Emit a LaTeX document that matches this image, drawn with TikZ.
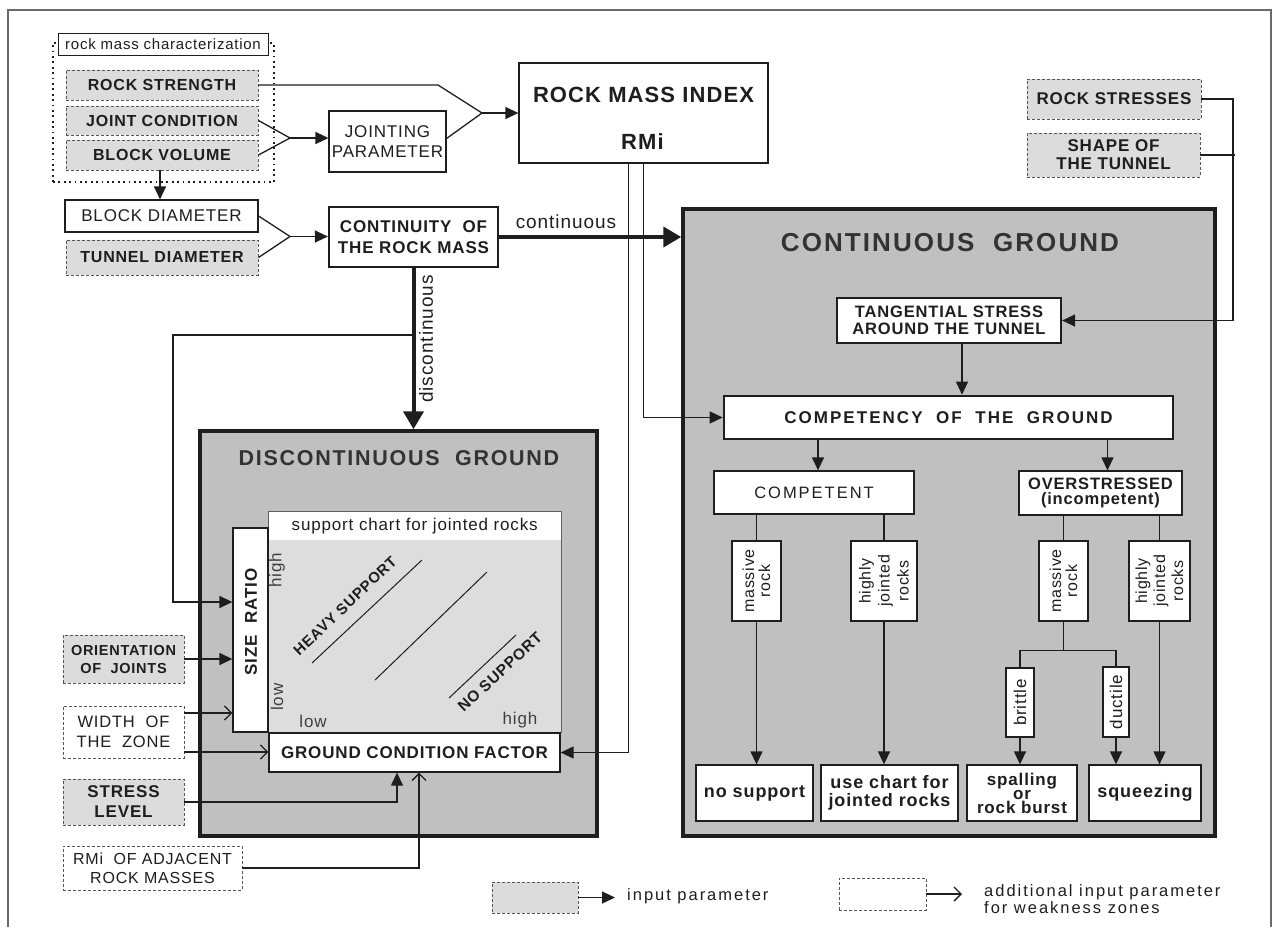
\documentclass[tikz,border=0pt]{standalone}
\usepackage{fontspec}
\setmainfont{Liberation Sans}[LetterSpace=5]
\newfontfamily\widefont{Liberation Sans}[LetterSpace=12]
\newfontfamily\titlefont{Liberation Sans}[LetterSpace=8]
\usetikzlibrary{arrows.meta,calc}
\definecolor{ink}{HTML}{1E1E1E}
\definecolor{inbox}{HTML}{DCDCDC}
\definecolor{groundfill}{HTML}{C0C0C0}
\definecolor{chartfill}{HTML}{DDDDDD}
\definecolor{framegray}{HTML}{6A6A6A}
\newcommand\fz[2]{\fontsize{#1}{#2}\selectfont}
\tikzset{
  box/.style={draw=ink, line width=1.3pt, fill=white, inner sep=0pt, align=center, text=ink},
  inp/.style={box, fill=inbox, draw=ink!75, line width=0.9pt, dash pattern=on 3pt off 2pt},
  weak/.style={inp, fill=white},
  heavybox/.style={box, line width=2.6pt},
  groundbox/.style={draw=ink, line width=3.5pt, fill=groundfill, inner sep=0pt},
  sz/.style 2 args={minimum width=#1, minimum height=#2},
  txt/.style={inner sep=0pt, text=ink, align=center},
  link/.style={draw=ink, line width=1.3pt},
  arr/.style={link, -{Triangle[length=13pt,width=12pt]}},
  oarr/.style={link, -{Straight Barb[length=7pt,width=14pt]}},
  bigarr/.style={draw=ink, line width=4pt, -{Triangle[length=18pt,width=20pt]}},
}
\begin{document}
\begin{tikzpicture}[x=1pt,y=-1pt]
\useasboundingbox (0,0) rectangle (1274,927);
\draw[framegray, line width=1.2pt] (8,927) -- (8,10) -- (1271,10) -- (1271,927);

% ---------- ground boxes ----------
\node[groundbox, sz={532}{627}] (cg) at (949,522.5) {};
\node[txt, text=black!80, font=\titlefont\bfseries\fz{26}{28}] (cgt) at (950,243) {CONTINUOUS\ \ GROUND};
\node[groundbox, sz={397}{405}] (dg) at (398.5,633.5) {};
\node[txt, text=black!80, font=\titlefont\bfseries\fz{21.5}{24}] (dgt) at (399,458) {DISCONTINUOUS\ \ GROUND};

% ---------- support chart ----------
\node[draw=ink!70, line width=1pt, fill=chartfill, sz={293}{221}, anchor=north west, inner sep=0pt] (chart) at (268,511) {};
\node[fill=white, sz={292}{28}, anchor=north west, inner sep=0pt, text=ink, font=\fz{17}{19}] (charthd) at (268.5,511.5) {support\ chart\ for\ jointed\ rocks};
\draw[ink, line width=1pt] (312,663) -- (422,560);
\draw[ink, line width=1pt] (375,680) -- (487,572);
\draw[ink, line width=1pt] (449,698) -- (516,635);
\node[txt, rotate=43.5, font=\bfseries\fz{15}{17}] (heavy) at (345,606) {HEAVY SUPPORT};
\node[txt, rotate=43, font=\bfseries\fz{15.5}{17}] (nosup) at (500,672) {NO SUPPORT};
\node[txt, text=black!75, rotate=90, font=\fz{17}{19}] (yhigh) at (277,570) {high};
\node[txt, text=black!75, rotate=90, font=\fz{17}{19}] (ylow) at (277,697) {low};
\node[txt, text=black!75, font=\fz{17}{19}] (xlow) at (313,721) {low};
\node[txt, text=black!75, font=\fz{17}{19}] (xhigh) at (520,720) {high};
\node[box, sz={35}{204}] (sr) at (250.5,630) {};
\node[txt, rotate=90, font=\bfseries\fz{17}{19}] (srt) at (251,622) {SIZE\ \ RATIO};
\node[box, sz={291}{39}, font=\bfseries\fz{17}{19}] (gcf) at (414.5,752.5) {GROUND CONDITION FACTOR};

% ---------- rock mass characterization ----------
\node[draw=ink, dash pattern=on 1.8pt off 3.6pt, line width=1.7pt, sz={221}{139}, inner sep=0pt] (charz) at (163.5,112.5) {};
\node[box, line width=1pt, sz={210}{22}, font=\fz{15}{17}] (rmc) at (163,44) {rock mass characterization};
\node[inp, sz={192}{30}, font=\bfseries\fz{16}{18}] (rs) at (162,85) {ROCK STRENGTH};
\node[inp, sz={192}{29}, font=\bfseries\fz{16}{18}] (jc) at (162,120.5) {JOINT CONDITION};
\node[inp, sz={192}{30}, font=\bfseries\fz{16}{18}] (bv) at (162,155) {BLOCK VOLUME};
\node[box, line width=1.1pt, sz={193}{32}, font=\fz{17}{19}] (bd) at (161.5,216) {BLOCK DIAMETER};
\node[inp, sz={192}{35}, font=\bfseries\fz{16}{18}] (td) at (162,257.5) {TUNNEL DIAMETER};
\node[box, line width=1.1pt, sz={117}{61}, font=\fz{17}{20}] (jp) at (387.5,141.5) {JOINTING\\PARAMETER};
\node[box, line width=1.3pt, sz={249}{100}] (rmi) at (643.5,113) {};
\node[txt, font=\bfseries\fz{22}{24}] (rmit) at (643.5,95) {ROCK MASS INDEX};
\node[txt, font=\bfseries\fz{22}{24}] (rmis) at (642.5,142) {RMi};
\node[heavybox, line width=2.2pt, sz={169}{60}, font=\bfseries\fz{17}{21}] (cont) at (413.5,237) {CONTINUITY\ \ OF\\THE ROCK MASS};

% ---------- continuous ground ----------
\node[inp, sz={174}{40}, font=\bfseries\fz{17}{19}] (rstr) at (1114,99) {ROCK STRESSES};
\node[inp, sz={173}{44}, font=\bfseries\fz{17}{18}] (shape) at (1113.5,155) {SHAPE OF\\THE TUNNEL};
\node[heavybox, line width=2.2pt, sz={224}{45}, font=\bfseries\fz{16.5}{17}] (tang) at (949,320.5) {TANGENTIAL STRESS\\AROUND THE TUNNEL};
\node[heavybox, sz={449}{43}, font=\widefont\bfseries\fz{17}{19}] (comp) at (948.5,417.5) {COMPETENCY\ \ OF\ \ THE\ \ GROUND};
\node[box, sz={200}{43}, font=\widefont\fz{16.5}{19}] (compt) at (814,492.5) {COMPETENT};
\node[box, sz={163}{44}, font=\bfseries\fz{16.5}{15}] (over) at (1100.5,493) {OVERSTRESSED\\(incompetent)};
\node[box, rotate=90, minimum width=80, minimum height=49, font=\fz{16}{16}] (m1) at (756.5,581) {massive\\rock};
\node[box, rotate=90, minimum width=80, minimum height=66, font=\fz{16}{19}] (h1) at (884,581) {highly\\jointed\\rocks};
\node[box, rotate=90, minimum width=80, minimum height=49, font=\fz{16}{16}] (m2) at (1063.5,581) {massive\\rock};
\node[box, rotate=90, minimum width=80, minimum height=61, font=\fz{16}{18}] (h2) at (1159.5,581) {highly\\jointed\\rocks};
\node[box, rotate=90, minimum width=69, minimum height=28, font=\fz{17}{19}] (brit) at (1020,702.5) {brittle};
\node[box, rotate=90, minimum width=70, minimum height=26, font=\fz{17}{19}] (duct) at (1116,702) {ductile};
\node[box, sz={117}{56}, font=\bfseries\fz{18}{20}] (ns) at (754.5,793) {no support};
\node[box, sz={137}{56}, font=\bfseries\fz{18}{17.5}] (uc) at (889.5,793) {use chart for\\jointed rocks};
\node[box, sz={110}{56}, font=\bfseries\fz{17}{14}] (sp) at (1022,793) {spalling\\or\\rock burst};
\node[box, sz={112}{56}, font=\bfseries\fz{18}{20}] (sq) at (1145,793) {squeezing};

% ---------- inputs for the discontinuous ground ----------
\node[inp, sz={121}{48}, font=\bfseries\fz{14.5}{18}] (oj) at (123.5,659) {ORIENTATION\\OF\ \ JOINTS};
\node[weak, sz={121}{52}, font=\fz{16.5}{20}] (wz) at (123.5,732) {WIDTH\ \ OF\\THE\ \ ZONE};
\node[inp, sz={121}{46}, font=\bfseries\fz{17}{20}] (sl) at (123.5,802) {STRESS\\LEVEL};
\node[weak, sz={179}{44}, font=\fz{16}{19}] (ra) at (152.5,868) {RMi\ \ OF ADJACENT\\ROCK MASSES};

% ---------- legend ----------
\node[inp, sz={86}{31}] (lg1) at (535,897.5) {};
\coordinate (lg1e) at (615,897.5);
\node[txt, anchor=west, font=\widefont\fz{16.5}{18}] (lg1t) at (627,896) {input parameter};
\node[weak, sz={87}{32}] (lg2) at (882.5,894) {};
\coordinate (lg2e) at (962,894);
\node[txt, anchor=west, align=left, font=\widefont\fz{16.5}{17.5}] (lg2t) at (984,899) {additional input parameter\\for weakness zones};

% ---------- connectors ----------
\coordinate (jm) at (290,138);
\draw[link] (jc.east) -- (jm);
\draw[link] (bv.east) -- (jm);
\draw[arr] (jm) -- (jm -| jp.west);
\coordinate (rsk) at (438,85);
\coordinate (rm) at (482,113);
\draw[link] (rs.east) -- (rsk) -- (rm);
\draw[link] ([yshift=3pt]jp.east) -- (rm);
\draw[arr] (rm) -- (rm -| rmi.west);
\draw[arr] (bv.south -| 160,0) -- (bd.north -| 160,0);
\coordinate (dm) at (290,236.5);
\draw[link] (bd.east) -- (dm);
\draw[link] (td.east) -- (dm);
\draw[arr] (dm) -- (dm -| cont.west);

% continuity of the rock mass
\draw[bigarr] (cont.east) -- (cont.east -| cg.west);
\node[txt, font=\fz{19}{21}] (lc) at (566,222) {continuous};
\draw[bigarr] (cont.south) -- (cont.south |- dg.north);
\node[txt, rotate=90, font=\fz{19}{21}] (ld) at (426,339) {discontinuous};
\path (cont.south) ++(0,67) coordinate (lp);
\coordinate (lpc) at (173,602);
\draw[arr] (lp) -- (lp -| lpc) -- (lpc) -- (lpc -| sr.west);

% RMi feeds
\path (rmi.south) ++(-15,0) coordinate (r1);
\draw[arr] (r1) -- (r1 |- gcf.east) -- (gcf.east);
\draw[arr] (rmi.south) -- (rmi.south |- comp.west) -- (comp.west);

% stresses and tunnel shape
\coordinate (sk) at (1233,99);
\draw[arr] (rstr.east) -- (sk) -- (sk |- tang.east) -- (tang.east);
\draw[link] (shape.east) -- ++(35,0);
\draw[arr] ([xshift=13pt]tang.south) -- ([xshift=13pt]tang.south |- comp.north);

% competency branches
\draw[arr] ([xshift=4pt]compt.north |- comp.south) -- ([xshift=4pt]compt.north);
\draw[arr] ([xshift=7pt]over.north |- comp.south) -- ([xshift=7pt]over.north);
\draw[link] (m1.east |- compt.south) -- (m1.east);
\draw[link] (h1.east |- compt.south) -- (h1.east);
\draw[link] (m2.east |- over.south) -- (m2.east);
\draw[link] (h2.east |- over.south) -- (h2.east);
\draw[arr] (m1.west) -- (m1.west |- ns.north);
\draw[arr] (h1.west) -- (h1.west |- uc.north);
\path (m2.west) ++(0,29) coordinate (bj);
\draw[link] (m2.west) -- (bj);
\draw[link] (brit.east) |- (bj) -| (duct.east);
\draw[arr] (brit.west) -- (brit.west |- sp.north);
\draw[arr] (duct.west) -- (duct.west |- sq.north);
\draw[arr] (h2.west) -- (h2.west |- sq.north);

% inputs into the support chart
\draw[arr] (oj.east) -- (oj.east -| sr.west);
\draw[oarr] ([yshift=19pt]wz.east) -- ([yshift=19pt]wz.east -| sr.west);
\draw[oarr] ([yshift=-20pt]wz.east) -- ([yshift=-20pt]wz.east -| gcf.west);
\coordinate (slk) at (397,802);
\draw[arr] (sl.east) -- (slk) -- (slk |- gcf.south);
\coordinate (rak) at (419,868);
\draw[oarr] (ra.east) -- (rak) -- (rak |- gcf.south);

% legend arrows
\draw[arr] (lg1.east) -- (lg1e);
\draw[oarr] (lg2.east) -- (lg2e);
\end{tikzpicture}
\end{document}
